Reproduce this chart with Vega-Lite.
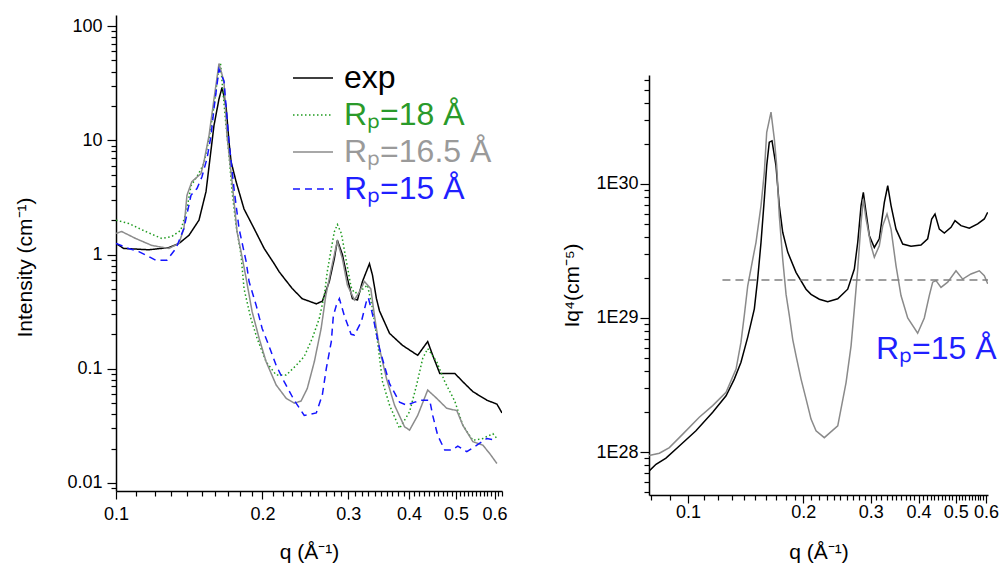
{
"$schema": "https://vega.github.io/schema/vega-lite/v6.json",
"padding": {"left": 14, "top": 15, "right": 0, "bottom": 2},
"config": {
  "view": {"stroke": null},
  "font": "Liberation Sans",
  "axis": {"domainColor": "#000", "domainWidth": 1.5, "tickColor": "#000", "tickWidth": 1.2, "labelColor": "#000", "titleColor": "#000", "labelFont": "Liberation Sans", "titleFont": "Liberation Sans", "labelFontSize": 18, "titleFontSize": 21, "titleFontWeight": "normal", "grid": false, "labelOverlap": false, "labelBound": false, "labelFlush": false}
},
"spacing": 53,
"resolve": {"scale": {"color": "independent", "strokeDash": "independent"}, "legend": {"color": "independent", "strokeDash": "independent"}},
"datasets": {
"left": [
{"series":"exp","q":0.1,"I":1.25},{"series":"exp","q":0.1037,"I":1.13},{"series":"exp","q":0.1168,"I":1.10},{"series":"exp","q":0.1284,"I":1.15},{"series":"exp","q":0.1347,"I":1.25},{"series":"exp","q":0.1412,"I":1.47},{"series":"exp","q":0.1481,"I":2.0},{"series":"exp","q":0.1531,"I":3.55},{"series":"exp","q":0.156,"I":6.9},{"series":"exp","q":0.159,"I":13.5},{"series":"exp","q":0.1628,"I":23},{"series":"exp","q":0.1652,"I":29},{"series":"exp","q":0.1683,"I":20},{"series":"exp","q":0.1707,"I":9.7},{"series":"exp","q":0.1724,"I":6.5},{"series":"exp","q":0.1765,"I":4.35},{"series":"exp","q":0.1833,"I":2.5},{"series":"exp","q":0.1922,"I":1.69},{"series":"exp","q":0.2016,"I":1.13},{"series":"exp","q":0.2114,"I":0.83},{"series":"exp","q":0.2165,"I":0.705},{"series":"exp","q":0.2216,"I":0.62},{"series":"exp","q":0.2302,"I":0.504},{"series":"exp","q":0.2414,"I":0.41},{"series":"exp","q":0.258,"I":0.37},{"series":"exp","q":0.2655,"I":0.39},{"series":"exp","q":0.2744,"I":0.58},{"series":"exp","q":0.281,"I":0.92},{"series":"exp","q":0.2851,"I":1.33},{"series":"exp","q":0.2919,"I":1.0},{"series":"exp","q":0.2989,"I":0.62},{"series":"exp","q":0.3061,"I":0.41},{"series":"exp","q":0.3135,"I":0.40},{"series":"exp","q":0.321,"I":0.58},{"series":"exp","q":0.3318,"I":0.83},{"series":"exp","q":0.3366,"I":0.66},{"series":"exp","q":0.343,"I":0.41},{"series":"exp","q":0.348,"I":0.32},{"series":"exp","q":0.3649,"I":0.204},{"series":"exp","q":0.3881,"I":0.16},{"series":"exp","q":0.4169,"I":0.131},{"series":"exp","q":0.4371,"I":0.173},{"series":"exp","q":0.4476,"I":0.131},{"series":"exp","q":0.4628,"I":0.091},{"series":"exp","q":0.4969,"I":0.091},{"series":"exp","q":0.5161,"I":0.077},{"series":"exp","q":0.5413,"I":0.063},{"series":"exp","q":0.5784,"I":0.053},{"series":"exp","q":0.6065,"I":0.049},{"series":"exp","q":0.6213,"I":0.041},
{"series":"Rₚ=18 Å","q":0.1,"I":2.0},{"series":"Rₚ=18 Å","q":0.1062,"I":1.87},{"series":"Rₚ=18 Å","q":0.1151,"I":1.59},{"series":"Rₚ=18 Å","q":0.1242,"I":1.38},{"series":"Rₚ=18 Å","q":0.1303,"I":1.44},{"series":"Rₚ=18 Å","q":0.1359,"I":1.63},{"series":"Rₚ=18 Å","q":0.1399,"I":2.5},{"series":"Rₚ=18 Å","q":0.1426,"I":4.0},{"series":"Rₚ=18 Å","q":0.1467,"I":4.8},{"series":"Rₚ=18 Å","q":0.1516,"I":6.25},{"series":"Rₚ=18 Å","q":0.1553,"I":10.3},{"series":"Rₚ=18 Å","q":0.159,"I":20},{"series":"Rₚ=18 Å","q":0.1628,"I":44},{"series":"Rₚ=18 Å","q":0.164,"I":47},{"series":"Rₚ=18 Å","q":0.1652,"I":32.6},{"series":"Rₚ=18 Å","q":0.1683,"I":13.5},{"series":"Rₚ=18 Å","q":0.1707,"I":7.4},{"series":"Rₚ=18 Å","q":0.1732,"I":3.55},{"series":"Rₚ=18 Å","q":0.1765,"I":1.8},{"series":"Rₚ=18 Å","q":0.1807,"I":0.99},{"series":"Rₚ=18 Å","q":0.1833,"I":0.5},{"series":"Rₚ=18 Å","q":0.1893,"I":0.276},{"series":"Rₚ=18 Å","q":0.195,"I":0.184},{"series":"Rₚ=18 Å","q":0.2035,"I":0.115},{"series":"Rₚ=18 Å","q":0.2134,"I":0.088},{"series":"Rₚ=18 Å","q":0.2238,"I":0.088},{"series":"Rₚ=18 Å","q":0.2346,"I":0.107},{"series":"Rₚ=18 Å","q":0.2437,"I":0.128},{"series":"Rₚ=18 Å","q":0.2531,"I":0.184},{"series":"Rₚ=18 Å","q":0.2617,"I":0.276},{"series":"Rₚ=18 Å","q":0.268,"I":0.44},{"series":"Rₚ=18 Å","q":0.2718,"I":0.71},{"series":"Rₚ=18 Å","q":0.277,"I":1.13},{"series":"Rₚ=18 Å","q":0.281,"I":1.58},{"series":"Rₚ=18 Å","q":0.2851,"I":1.83},{"series":"Rₚ=18 Å","q":0.2905,"I":1.53},{"series":"Rₚ=18 Å","q":0.2975,"I":0.87},{"series":"Rₚ=18 Å","q":0.3042,"I":0.52},{"series":"Rₚ=18 Å","q":0.309,"I":0.46},{"series":"Rₚ=18 Å","q":0.3164,"I":0.47},{"series":"Rₚ=18 Å","q":0.3287,"I":0.54},{"series":"Rₚ=18 Å","q":0.3366,"I":0.337},{"series":"Rₚ=18 Å","q":0.3447,"I":0.173},{"series":"Rₚ=18 Å","q":0.353,"I":0.077},{"series":"Rₚ=18 Å","q":0.3649,"I":0.048},{"series":"Rₚ=18 Å","q":0.3826,"I":0.030},{"series":"Rₚ=18 Å","q":0.4012,"I":0.042},{"series":"Rₚ=18 Å","q":0.4148,"I":0.072},{"series":"Rₚ=18 Å","q":0.4269,"I":0.123},{"series":"Rₚ=18 Å","q":0.4371,"I":0.15},{"series":"Rₚ=18 Å","q":0.4562,"I":0.115},{"series":"Rₚ=18 Å","q":0.4739,"I":0.077},{"series":"Rₚ=18 Å","q":0.4969,"I":0.052},{"series":"Rₚ=18 Å","q":0.5161,"I":0.032},{"series":"Rₚ=18 Å","q":0.5413,"I":0.0236},{"series":"Rₚ=18 Å","q":0.5676,"I":0.0245},{"series":"Rₚ=18 Å","q":0.5951,"I":0.027},{"series":"Rₚ=18 Å","q":0.6065,"I":0.0245},
{"series":"Rₚ=16.5 Å","q":0.1,"I":1.53},{"series":"Rₚ=16.5 Å","q":0.1027,"I":1.59},{"series":"Rₚ=16.5 Å","q":0.1098,"I":1.38},{"series":"Rₚ=16.5 Å","q":0.1185,"I":1.2},{"series":"Rₚ=16.5 Å","q":0.1284,"I":1.13},{"series":"Rₚ=16.5 Å","q":0.1347,"I":1.25},{"series":"Rₚ=16.5 Å","q":0.1379,"I":1.69},{"series":"Rₚ=16.5 Å","q":0.1399,"I":3.3},{"series":"Rₚ=16.5 Å","q":0.1432,"I":4.35},{"series":"Rₚ=16.5 Å","q":0.1495,"I":5.1},{"series":"Rₚ=16.5 Å","q":0.1516,"I":6.5},{"series":"Rₚ=16.5 Å","q":0.1553,"I":11},{"series":"Rₚ=16.5 Å","q":0.159,"I":23},{"series":"Rₚ=16.5 Å","q":0.1628,"I":47},{"series":"Rₚ=16.5 Å","q":0.1667,"I":32.6},{"series":"Rₚ=16.5 Å","q":0.1691,"I":11},{"series":"Rₚ=16.5 Å","q":0.1732,"I":4.35},{"series":"Rₚ=16.5 Å","q":0.1773,"I":1.59},{"series":"Rₚ=16.5 Å","q":0.1816,"I":0.95},{"series":"Rₚ=16.5 Å","q":0.1851,"I":0.62},{"series":"Rₚ=16.5 Å","q":0.1904,"I":0.317},{"series":"Rₚ=16.5 Å","q":0.1969,"I":0.184},{"series":"Rₚ=16.5 Å","q":0.2035,"I":0.115},{"series":"Rₚ=16.5 Å","q":0.2134,"I":0.072},{"series":"Rₚ=16.5 Å","q":0.2238,"I":0.055},{"series":"Rₚ=16.5 Å","q":0.2324,"I":0.05},{"series":"Rₚ=16.5 Å","q":0.24,"I":0.052},{"series":"Rₚ=16.5 Å","q":0.2472,"I":0.067},{"series":"Rₚ=16.5 Å","q":0.2556,"I":0.115},{"series":"Rₚ=16.5 Å","q":0.264,"I":0.225},{"series":"Rₚ=16.5 Å","q":0.27,"I":0.44},{"series":"Rₚ=16.5 Å","q":0.277,"I":0.75},{"series":"Rₚ=16.5 Å","q":0.2837,"I":1.2},{"series":"Rₚ=16.5 Å","q":0.2851,"I":1.3},{"series":"Rₚ=16.5 Å","q":0.2919,"I":0.92},{"series":"Rₚ=16.5 Å","q":0.2989,"I":0.54},{"series":"Rₚ=16.5 Å","q":0.309,"I":0.40},{"series":"Rₚ=16.5 Å","q":0.3164,"I":0.47},{"series":"Rₚ=16.5 Å","q":0.324,"I":0.58},{"series":"Rₚ=16.5 Å","q":0.334,"I":0.5},{"series":"Rₚ=16.5 Å","q":0.3398,"I":0.29},{"series":"Rₚ=16.5 Å","q":0.348,"I":0.15},{"series":"Rₚ=16.5 Å","q":0.3597,"I":0.082},{"series":"Rₚ=16.5 Å","q":0.3736,"I":0.048},{"series":"Rₚ=16.5 Å","q":0.3918,"I":0.031},{"series":"Rₚ=16.5 Å","q":0.4012,"I":0.029},{"series":"Rₚ=16.5 Å","q":0.4169,"I":0.039},{"series":"Rₚ=16.5 Å","q":0.4371,"I":0.065},{"series":"Rₚ=16.5 Å","q":0.4562,"I":0.055},{"series":"Rₚ=16.5 Å","q":0.4784,"I":0.045},{"series":"Rₚ=16.5 Å","q":0.5017,"I":0.043},{"series":"Rₚ=16.5 Å","q":0.5161,"I":0.032},{"series":"Rₚ=16.5 Å","q":0.5413,"I":0.023},{"series":"Rₚ=16.5 Å","q":0.5676,"I":0.0214},{"series":"Rₚ=16.5 Å","q":0.5867,"I":0.018},{"series":"Rₚ=16.5 Å","q":0.6065,"I":0.0148},
{"series":"Rₚ=15 Å","q":0.1,"I":1.25},{"series":"Rₚ=15 Å","q":0.1062,"I":1.13},{"series":"Rₚ=15 Å","q":0.1114,"I":1.06},{"series":"Rₚ=15 Å","q":0.1168,"I":0.96},{"series":"Rₚ=15 Å","q":0.1207,"I":0.89},{"series":"Rₚ=15 Å","q":0.1272,"I":0.89},{"series":"Rₚ=15 Å","q":0.1328,"I":1.13},{"series":"Rₚ=15 Å","q":0.1379,"I":1.69},{"series":"Rₚ=15 Å","q":0.1426,"I":3.3},{"series":"Rₚ=15 Å","q":0.1467,"I":3.78},{"series":"Rₚ=15 Å","q":0.1502,"I":4.8},{"series":"Rₚ=15 Å","q":0.1538,"I":6.9},{"series":"Rₚ=15 Å","q":0.1568,"I":11},{"series":"Rₚ=15 Å","q":0.159,"I":19},{"series":"Rₚ=15 Å","q":0.1628,"I":42},{"series":"Rₚ=15 Å","q":0.1667,"I":33},{"series":"Rₚ=15 Å","q":0.1707,"I":9.7},{"series":"Rₚ=15 Å","q":0.1748,"I":3.78},{"series":"Rₚ=15 Å","q":0.179,"I":1.69},{"series":"Rₚ=15 Å","q":0.1851,"I":0.87},{"series":"Rₚ=15 Å","q":0.1877,"I":0.58},{"series":"Rₚ=15 Å","q":0.1941,"I":0.36},{"series":"Rₚ=15 Å","q":0.1997,"I":0.225},{"series":"Rₚ=15 Å","q":0.2064,"I":0.157},{"series":"Rₚ=15 Å","q":0.2134,"I":0.107},{"series":"Rₚ=15 Å","q":0.2216,"I":0.077},{"series":"Rₚ=15 Å","q":0.2324,"I":0.053},{"series":"Rₚ=15 Å","q":0.2437,"I":0.039},{"series":"Rₚ=15 Å","q":0.258,"I":0.041},{"series":"Rₚ=15 Å","q":0.2655,"I":0.059},{"series":"Rₚ=15 Å","q":0.2705,"I":0.1},{"series":"Rₚ=15 Å","q":0.277,"I":0.173},{"series":"Rₚ=15 Å","q":0.2797,"I":0.29},{"series":"Rₚ=15 Å","q":0.2837,"I":0.36},{"series":"Rₚ=15 Å","q":0.2878,"I":0.41},{"series":"Rₚ=15 Å","q":0.2947,"I":0.29},{"series":"Rₚ=15 Å","q":0.3042,"I":0.2},{"series":"Rₚ=15 Å","q":0.309,"I":0.197},{"series":"Rₚ=15 Å","q":0.3195,"I":0.26},{"series":"Rₚ=15 Å","q":0.3271,"I":0.39},{"series":"Rₚ=15 Å","q":0.33,"I":0.42},{"series":"Rₚ=15 Å","q":0.3366,"I":0.30},{"series":"Rₚ=15 Å","q":0.348,"I":0.15},{"series":"Rₚ=15 Å","q":0.3649,"I":0.074},{"series":"Rₚ=15 Å","q":0.3826,"I":0.051},{"series":"Rₚ=15 Å","q":0.3955,"I":0.048},{"series":"Rₚ=15 Å","q":0.4109,"I":0.051},{"series":"Rₚ=15 Å","q":0.4249,"I":0.053},{"series":"Rₚ=15 Å","q":0.4413,"I":0.053},{"series":"Rₚ=15 Å","q":0.4476,"I":0.039},{"series":"Rₚ=15 Å","q":0.4584,"I":0.026},{"series":"Rₚ=15 Å","q":0.4739,"I":0.0194},{"series":"Rₚ=15 Å","q":0.4899,"I":0.0194},{"series":"Rₚ=15 Å","q":0.504,"I":0.021},{"series":"Rₚ=15 Å","q":0.526,"I":0.0188},{"series":"Rₚ=15 Å","q":0.5516,"I":0.0214},{"series":"Rₚ=15 Å","q":0.5784,"I":0.0245},{"series":"Rₚ=15 Å","q":0.6065,"I":0.0236}
],
"right": [
{"series":"exp","q":0.0791,"v":7.2e27},{"series":"exp","q":0.0825,"v":8.1e27},{"series":"exp","q":0.0876,"v":9.0e27},{"series":"exp","q":0.0949,"v":1.11e28},{"series":"exp","q":0.1049,"v":1.44e28},{"series":"exp","q":0.116,"v":1.98e28},{"series":"exp","q":0.1257,"v":2.63e28},{"series":"exp","q":0.1321,"v":3.5e28},{"series":"exp","q":0.1375,"v":4.67e28},{"series":"exp","q":0.1432,"v":7.2e28},{"series":"exp","q":0.149,"v":1.17e29},{"series":"exp","q":0.152,"v":1.95e29},{"series":"exp","q":0.1551,"v":3.67e29},{"series":"exp","q":0.1582,"v":7.7e29},{"series":"exp","q":0.1605,"v":1.37e30},{"series":"exp","q":0.163,"v":2.05e30},{"series":"exp","q":0.1657,"v":2.1e30},{"series":"exp","q":0.1697,"v":1.37e30},{"series":"exp","q":0.1731,"v":6.9e29},{"series":"exp","q":0.1767,"v":4.36e29},{"series":"exp","q":0.1821,"v":3.1e29},{"series":"exp","q":0.1914,"v":2.19e29},{"series":"exp","q":0.2033,"v":1.64e29},{"series":"exp","q":0.2095,"v":1.5e29},{"series":"exp","q":0.2202,"v":1.38e29},{"series":"exp","q":0.2316,"v":1.32e29},{"series":"exp","q":0.246,"v":1.39e29},{"series":"exp","q":0.2612,"v":1.64e29},{"series":"exp","q":0.2718,"v":2.32e29},{"series":"exp","q":0.2774,"v":3.67e29},{"series":"exp","q":0.283,"v":6.9e29},{"series":"exp","q":0.2869,"v":8.67e29},{"series":"exp","q":0.2916,"v":6.15e29},{"series":"exp","q":0.2975,"v":4.1e29},{"series":"exp","q":0.3065,"v":3.36e29},{"series":"exp","q":0.3158,"v":3.9e29},{"series":"exp","q":0.3255,"v":7.3e29},{"series":"exp","q":0.3322,"v":9.7e29},{"series":"exp","q":0.3389,"v":6.9e29},{"series":"exp","q":0.3492,"v":4.6e29},{"series":"exp","q":0.3635,"v":3.56e29},{"series":"exp","q":0.3821,"v":3.43e29},{"series":"exp","q":0.4057,"v":3.5e29},{"series":"exp","q":0.4224,"v":3.9e29},{"series":"exp","q":0.4327,"v":5.48e29},{"series":"exp","q":0.4414,"v":5.97e29},{"series":"exp","q":0.453,"v":4.6e29},{"series":"exp","q":0.4668,"v":4.3e29},{"series":"exp","q":0.486,"v":4.75e29},{"series":"exp","q":0.4978,"v":5.32e29},{"series":"exp","q":0.516,"v":4.89e29},{"series":"exp","q":0.5425,"v":4.67e29},{"series":"exp","q":0.5705,"v":5.03e29},{"series":"exp","q":0.5937,"v":5.48e29},{"series":"exp","q":0.6059,"v":6.15e29},
{"series":"model","q":0.0791,"v":9.4e27},{"series":"model","q":0.0842,"v":9.8e27},{"series":"model","q":0.0894,"v":1.08e28},{"series":"model","q":0.0969,"v":1.36e28},{"series":"model","q":0.107,"v":1.82e28},{"series":"model","q":0.116,"v":2.22e28},{"series":"model","q":0.1257,"v":2.79e28},{"series":"model","q":0.1335,"v":4.16e28},{"series":"model","q":0.1375,"v":6.6e28},{"series":"model","q":0.1403,"v":1.05e29},{"series":"model","q":0.1432,"v":1.74e29},{"series":"model","q":0.1476,"v":2.75e29},{"series":"model","q":0.1505,"v":3.67e29},{"series":"model","q":0.1551,"v":6.9e29},{"series":"model","q":0.1582,"v":1.22e30},{"series":"model","q":0.1605,"v":2.43e30},{"series":"model","q":0.1647,"v":3.43e30},{"series":"model","q":0.168,"v":2.17e30},{"series":"model","q":0.1704,"v":1.37e30},{"series":"model","q":0.1731,"v":5.8e29},{"series":"model","q":0.1767,"v":2.75e29},{"series":"model","q":0.1803,"v":1.5e29},{"series":"model","q":0.1839,"v":1.04e29},{"series":"model","q":0.1877,"v":6.9e28},{"series":"model","q":0.1914,"v":5.24e28},{"series":"model","q":0.1973,"v":3.5e28},{"series":"model","q":0.2033,"v":2.49e28},{"series":"model","q":0.2095,"v":1.76e28},{"series":"model","q":0.2159,"v":1.44e28},{"series":"model","q":0.2269,"v":1.28e28},{"series":"model","q":0.246,"v":1.57e28},{"series":"model","q":0.2586,"v":3.3e28},{"series":"model","q":0.2665,"v":6.2e28},{"series":"model","q":0.2718,"v":1.17e29},{"series":"model","q":0.2774,"v":2.32e29},{"series":"model","q":0.283,"v":5.17e29},{"series":"model","q":0.2869,"v":7.7e29},{"series":"model","q":0.2916,"v":5.48e29},{"series":"model","q":0.3005,"v":3.46e29},{"series":"model","q":0.3065,"v":2.84e29},{"series":"model","q":0.3158,"v":3.46e29},{"series":"model","q":0.3224,"v":4.89e29},{"series":"model","q":0.3308,"v":5.97e29},{"series":"model","q":0.3389,"v":4.6e29},{"series":"model","q":0.3492,"v":2.45e29},{"series":"model","q":0.3598,"v":1.47e29},{"series":"model","q":0.3746,"v":1.0e29},{"series":"model","q":0.3977,"v":7.7e28},{"series":"model","q":0.4139,"v":1.0e29},{"series":"model","q":0.4265,"v":1.47e29},{"series":"model","q":0.4353,"v":1.85e29},{"series":"model","q":0.4441,"v":1.9e29},{"series":"model","q":0.4576,"v":1.69e29},{"series":"model","q":0.4764,"v":1.85e29},{"series":"model","q":0.5008,"v":2.25e29},{"series":"model","q":0.5213,"v":1.95e29},{"series":"model","q":0.548,"v":2.13e29},{"series":"model","q":0.576,"v":2.25e29},{"series":"model","q":0.5937,"v":2.07e29},{"series":"model","q":0.6059,"v":1.8e29}
]
},
"hconcat": [
{
  "width": 386, "height": 476,
  "data": {"name": "left"},
  "mark": {"type": "line", "strokeWidth": 1.5, "clip": true},
  "encoding": {
    "x": {"field": "q", "type": "quantitative",
      "scale": {"type": "log", "domain": [0.1, 0.6213], "nice": false},
      "axis": {"title": "q (Å⁻¹)", "values": [0.1,0.11,0.12,0.13,0.14,0.15,0.16,0.17,0.18,0.19,0.2,0.21,0.22,0.23,0.24,0.25,0.26,0.27,0.28,0.29,0.3,0.31,0.32,0.33,0.34,0.35,0.36,0.37,0.38,0.39,0.4,0.41,0.42,0.43,0.44,0.45,0.46,0.47,0.48,0.49,0.5,0.51,0.52,0.53,0.54,0.55,0.56,0.57,0.58,0.59,0.6,0.61,0.62],
        "labelExpr": "indexof([0.1,0.2,0.3,0.4,0.5,0.6], datum.value) >= 0 ? format(datum.value, '.1f') : ''",
        "tickSize": {"condition": {"test": "indexof([0.1,0.2,0.3,0.4,0.5,0.6], datum.value) >= 0", "value": 8}, "value": 5},
        "labelPadding": 6, "titlePadding": 18}},
    "y": {"field": "I", "type": "quantitative",
      "scale": {"type": "log", "domain": [0.0085, 125], "nice": false},
      "axis": {"title": "Intensity (cm⁻¹)", "titleY": 252, "values": [0.009,0.01,0.02,0.03,0.04,0.05,0.06,0.07,0.08,0.09,0.1,0.2,0.3,0.4,0.5,0.6,0.7,0.8,0.9,1,2,3,4,5,6,7,8,9,10,20,30,40,50,60,70,80,90,100],
        "labelExpr": "abs(log(datum.value)/LN10 - round(log(datum.value)/LN10)) < 0.001 ? format(datum.value, '~g') : ''",
        "tickSize": {"condition": {"test": "abs(log(datum.value)/LN10 - round(log(datum.value)/LN10)) < 0.001", "value": 9}, "value": 5},
        "labelPadding": 5, "titlePadding": 31}},
    "color": {"field": "series", "type": "nominal",
      "scale": {"domain": ["exp", "Rₚ=18 Å", "Rₚ=16.5 Å", "Rₚ=15 Å"], "range": ["#000000", "#1e9a1e", "#8c8c8c", "#1414ff"]},
      "legend": {"title": null, "orient": "none", "legendX": 176, "legendY": 42, "symbolType": "stroke", "symbolSize": 1600, "symbolStrokeWidth": 1.5, "labelFontSize": 32, "labelFont": "Liberation Sans", "labelOffset": 10, "rowPadding": 0, "labelLimit": 400,
        "labelColor": {"expr": "datum.value == 'exp' ? '#000000' : (datum.value == 'Rₚ=18 Å' ? '#2a9a2a' : (datum.value == 'Rₚ=16.5 Å' ? '#9a9a9a' : '#1f1fff'))"}}},
    "strokeDash": {"field": "series", "type": "nominal",
      "scale": {"domain": ["exp", "Rₚ=18 Å", "Rₚ=16.5 Å", "Rₚ=15 Å"], "range": [[1, 0], [1.5, 2.5], [1, 0], [7, 5]]},
      "legend": {"title": null, "orient": "none", "legendX": 176, "legendY": 42, "symbolType": "stroke", "symbolSize": 1600, "symbolStrokeWidth": 1.5, "labelFontSize": 32, "labelFont": "Liberation Sans", "labelOffset": 10, "rowPadding": 0, "labelLimit": 400,
        "labelColor": {"expr": "datum.value == 'exp' ? '#000000' : (datum.value == 'Rₚ=18 Å' ? '#2a9a2a' : (datum.value == 'Rₚ=16.5 Å' ? '#9a9a9a' : '#1f1fff'))"}}}
  }
},
{
  "spacing": 0,
  "vconcat": [
    {"width": 339, "height": 55, "data": {"values": []}, "mark": "point", "encoding": {}},
    {
      "width": 339, "height": 420,
      "layer": [
        {
          "data": {"name": "right"},
          "mark": {"type": "line", "strokeWidth": 1.5, "clip": true},
          "encoding": {
            "x": {"field": "q", "type": "quantitative",
              "scale": {"type": "log", "domain": [0.0791, 0.607], "nice": false},
              "axis": {"title": "q (Å⁻¹)", "values": [0.08,0.09,0.1,0.11,0.12,0.13,0.14,0.15,0.16,0.17,0.18,0.19,0.2,0.21,0.22,0.23,0.24,0.25,0.26,0.27,0.28,0.29,0.3,0.31,0.32,0.33,0.34,0.35,0.36,0.37,0.38,0.39,0.4,0.41,0.42,0.43,0.44,0.45,0.46,0.47,0.48,0.49,0.5,0.51,0.52,0.53,0.54,0.55,0.56,0.57,0.58,0.59,0.6],
                "labelExpr": "indexof([0.1,0.2,0.3,0.4,0.5,0.6], datum.value) >= 0 ? format(datum.value, '.1f') : ''",
                "tickSize": {"condition": {"test": "indexof([0.1,0.2,0.3,0.4,0.5,0.6], datum.value) >= 0", "value": 8}, "value": 5},
                "labelPadding": 0, "titlePadding": 20}},
            "y": {"field": "v", "type": "quantitative",
              "scale": {"type": "log", "domain": [4.78e27, 6.5e30], "nice": false},
              "axis": {"title": "Iq⁴(cm⁻⁵)", "values": [5e27,6e27,7e27,8e27,9e27,1e28,2e28,3e28,4e28,5e28,6e28,7e28,8e28,9e28,1e29,2e29,3e29,4e29,5e29,6e29,7e29,8e29,9e29,1e30,2e30,3e30,4e30,5e30,6e30],
                "labelExpr": "abs(log(datum.value)/LN10 - round(log(datum.value)/LN10)) < 0.001 ? '1E' + round(log(datum.value)/LN10) : ''",
                "tickSize": {"condition": {"test": "abs(log(datum.value)/LN10 - round(log(datum.value)/LN10)) < 0.001", "value": 9}, "value": 5},
                "labelPadding": 2, "titlePadding": 13}},
            "color": {"field": "series", "type": "nominal", "scale": {"domain": ["exp", "model"], "range": ["#000000", "#8a8a8a"]}, "legend": null}
          }
        },
        {
          "data": {"values": [{"q1": 0.123, "q2": 0.607, "v": 1.92e29}]},
          "mark": {"type": "rule", "color": "#7f7f7f", "strokeDash": [8, 5], "strokeWidth": 1.5},
          "encoding": {"x": {"field": "q1", "type": "quantitative"}, "x2": {"field": "q2"}, "y": {"field": "v", "type": "quantitative"}}
        },
        {
          "data": {"values": [{"q": 0.3096, "v": 5.9e28, "label": "Rₚ=15 Å"}]},
          "mark": {"type": "text", "align": "left", "baseline": "middle", "fontSize": 32, "color": "#1f1fff", "font": "Liberation Sans"},
          "encoding": {"x": {"field": "q", "type": "quantitative"}, "y": {"field": "v", "type": "quantitative"}, "text": {"field": "label"}}
        }
      ]
    }
  ]
}
]
}
